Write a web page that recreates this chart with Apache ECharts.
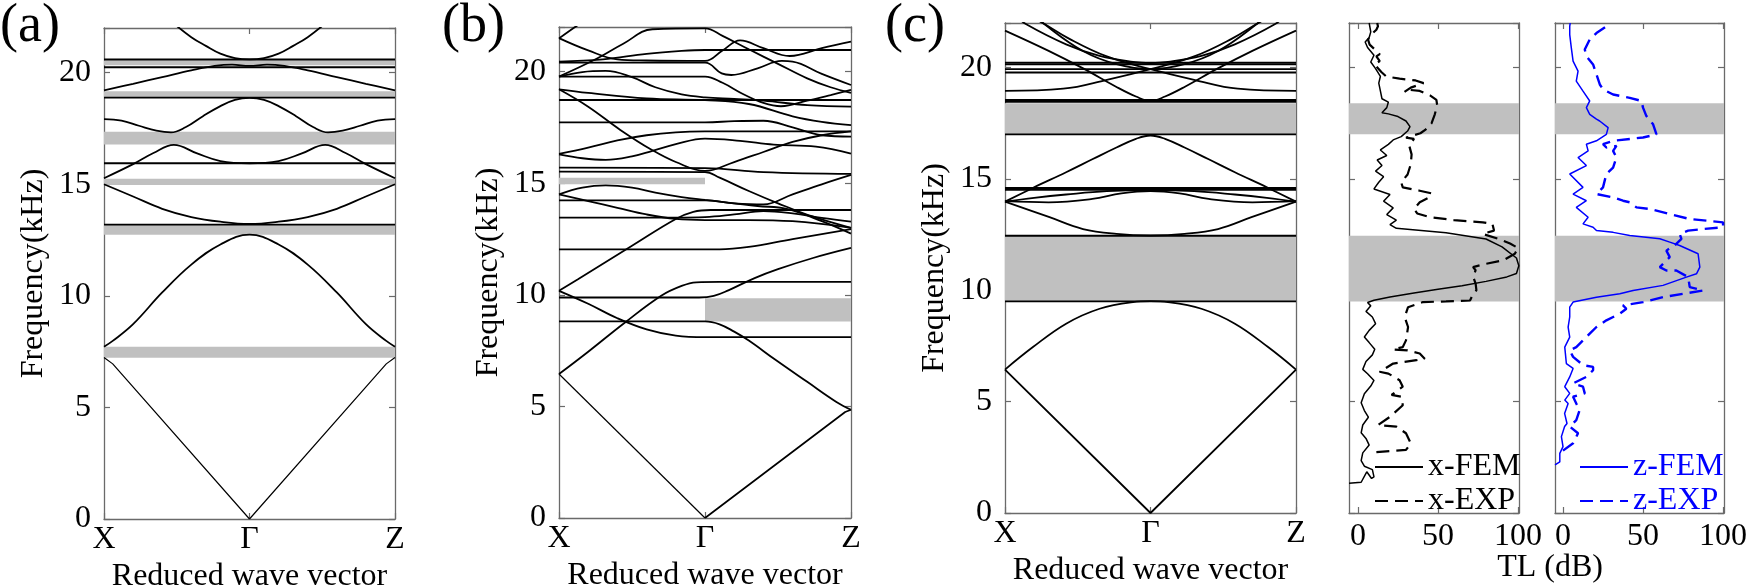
<!DOCTYPE html>
<html><head><meta charset="utf-8">
<script src="https://cdn.jsdelivr.net/npm/echarts@6/dist/echarts.min.js"></script>
<style>html,body{margin:0;padding:0;background:#fff}#c{width:1748px;height:587px}</style>
</head><body><div id="c"></div>
<script>
// ---------- tick labels ----------
const kPointPos = [0, 0.5, 1];
const kPointLabels = ['X', 'Γ', 'Z'];
const freqTicks = [0, 5, 10, 15, 20];
const tlTicks = [0, 50, 100];

// ---------- panel (a) ----------
const aStraight = [
  [[0,7.24],[0.03,6.95],[0.5,0],[0.97,6.95],[1,7.24]]
];
const aFlats = [13.19, 15.94, 18.88, 20.24, 20.59];
const aCurves = [
  [[0,7.72],[0.03,7.98],[0.1,8.73],[0.2,10.15],[0.3,11.4],[0.4,12.3],[0.5,12.74],[0.6,12.3],[0.7,11.4],[0.8,10.15],[0.9,8.73],[0.97,7.98],[1,7.72]],
  [[0,15.0],[0.1,14.45],[0.2,13.9],[0.3,13.53],[0.4,13.32],[0.5,13.22],[0.6,13.32],[0.7,13.53],[0.8,13.9],[0.9,14.45],[1,15.0]],
  [[0,15.27],[0.1,15.9],[0.17,16.4],[0.24,16.76],[0.32,16.38],[0.4,16.04],[0.5,15.94],[0.6,16.04],[0.68,16.38],[0.76,16.76],[0.83,16.4],[0.9,15.9],[1,15.27]],
  [[0,17.92],[0.06,17.85],[0.12,17.62],[0.18,17.4],[0.23,17.32],[0.28,17.55],[0.34,18.05],[0.4,18.5],[0.45,18.78],[0.5,18.87],[0.55,18.78],[0.6,18.5],[0.66,18.05],[0.72,17.55],[0.77,17.32],[0.82,17.4],[0.88,17.62],[0.94,17.85],[1,17.92]],
  [[0,19.21],[0.1,19.5],[0.2,19.8],[0.3,20.1],[0.38,20.3],[0.44,20.36],[0.5,20.3],[0.56,20.36],[0.62,20.3],[0.7,20.1],[0.8,19.8],[0.9,19.5],[1,19.21]],
  [[0.24,22.2],[0.3,21.59],[0.35,21.2],[0.4,20.85],[0.45,20.65],[0.5,20.59],[0.55,20.65],[0.6,20.85],[0.65,21.2],[0.7,21.59],[0.76,22.2]]
];
const aGaps = [[0,1,7.22,7.72],[0,1,12.74,13.19],[0,1,14.96,15.24],[0,1,16.78,17.35],[0,1,18.88,19.17],[0,1,20.33,20.55]];

// ---------- panel (b) ----------
const bStraight = [
  [[0,6.45],[0.5,0]],
  [[0.5,0],[0.98,4.75],[1,4.85]]
];
const bFlats = [18.73];
const bCurves = [
  [[0,6.45],[0.1,7.45],[0.225,8.75],[0.35,9.96],[0.42,10.4],[0.47,10.56],[0.55,10.58],[1,10.58]],
  [[0,10.18],[0.065,10.7],[0.25,12.2],[0.4,13.4],[0.46,13.72],[0.52,13.8],[1,13.8]],
  [[0,10.18],[0.1,9.6],[0.2,8.95],[0.3,8.45],[0.4,8.17],[0.5,8.1],[1,8.1]],
  [[0,9.88],[0.48,9.88],[0.53,9.95],[0.58,10.2],[0.67,10.75],[0.75,11.15],[0.87,11.65],[1,12.1]],
  [[0,8.81],[0.5,8.81],[0.55,8.68],[0.6,8.35],[0.65,7.95],[0.74,7.1],[0.85,6.1],[0.95,5.2],[1,4.85]],
  [[0,12.04],[0.55,12.04],[0.65,12.15],[0.8,12.5],[1,12.94]],
  [[0,14.5],[0.08,14.8],[0.16,14.9],[0.25,14.8],[0.33,14.58],[0.42,14.38],[0.5,14.25],[0.6,14.1],[0.68,13.98],[0.78,13.85],[0.9,13.3],[1,12.74]],
  [[0,14.5],[0.1,14.2],[0.2,13.9],[0.3,13.6],[0.4,13.4],[0.5,13.35],[0.65,13.35],[0.8,13.3],[1,13.0]],
  [[0,14.23],[0.5,14.23],[0.6,14.1],[0.7,14.05],[0.8,14.5],[0.9,14.95],[1,15.37]],
  [[0,13.46],[0.4,13.46],[0.5,13.48],[0.6,13.6],[0.7,13.75],[0.8,13.65],[0.9,13.45],[1,13.28]],
  [[0,15.7],[0.5,15.68],[0.7,15.5],[1,15.42]],
  [[0,15.52],[0.5,15.5],[0.55,15.25],[0.65,14.65],[0.75,14.1],[0.87,13.5],[1,13.0]],
  [[0,19.21],[0.1,18.43],[0.21,17.39],[0.317,16.5],[0.4,15.95],[0.5,15.55],[0.6,15.95],[0.7,16.4],[0.8,16.85],[0.9,17.15],[1,17.32]],
  [[0,16.29],[0.08,16.12],[0.16,16.05],[0.25,16.2],[0.32,16.45],[0.4,16.75],[0.5,17.0],[0.62,16.9],[0.735,16.73],[0.88,16.64],[1,16.33]],
  [[0,16.32],[0.1,16.6],[0.2,16.92],[0.3,17.15],[0.4,17.28],[0.5,17.32],[1,17.32]],
  [[0,17.73],[0.5,17.73],[0.6,17.78],[0.7,17.8],[0.8,17.5],[0.9,17.15],[1,17.09]],
  [[0,19.21],[0.1,19.05],[0.3,18.8],[0.5,18.72],[0.65,18.55],[0.8,18.0],[0.9,17.75],[1,17.6]],
  [[0,19.78],[0.08,19.98],[0.16,20.03],[0.25,19.75],[0.33,19.3],[0.42,18.98],[0.5,18.85],[0.6,18.78],[0.7,18.7],[0.85,18.5],[1,18.43]],
  [[0,19.78],[0.5,19.78],[0.56,19.5],[0.63,19.0],[0.7,18.6],[0.76,18.45],[0.85,18.7],[0.93,18.95],[1,19.18]],
  [[0,19.78],[0.12,20.52],[0.22,21.25],[0.32,21.9],[0.5,21.94],[0.56,21.6],[0.65,21.0],[0.75,20.35],[0.85,19.7],[0.93,19.3],[1,19.05]],
  [[0,20.45],[0.15,20.55],[0.3,20.8],[0.42,20.93],[0.5,20.97],[1,20.97]],
  [[0,20.4],[0.5,20.4],[0.557,19.92],[0.59,19.85],[0.68,20.15],[0.763,20.48],[0.8,20.45],[0.9,19.9],[1,19.4]],
  [[0,21.5],[0.1,20.95],[0.2,20.55],[0.3,20.5],[0.5,20.48],[0.56,20.95],[0.62,21.4],[0.7,21.05],[0.79,20.7],[0.9,21.05],[1,21.34]],
  [[0,21.49],[0.055,22.0],[0.1,22.4]]
];
const bGaps = [[0,0.5,14.95,15.25],[0.5,1,8.81,9.85]];

// ---------- panel (c) ----------
const cStraight = [
  [[0,6.44],[0.5,0],[1,6.44]]
];
const cFlats = [9.5, 12.45, 14.51, 14.59, 17.0, 18.46, 18.54, 19.78, 19.93, 20.15, 20.22];
const cCurves = [
  [[0,6.44],[0.096,7.45],[0.21,8.5],[0.325,9.17],[0.44,9.47],[0.5,9.51],[0.56,9.47],[0.675,9.17],[0.79,8.5],[0.904,7.45],[1,6.44]],
  [[0,13.98],[0.153,13.28],[0.268,12.75],[0.383,12.53],[0.5,12.46],[0.617,12.53],[0.732,12.75],[0.847,13.28],[1,13.98]],
  [[0,13.98],[0.1,14.62],[0.21,15.3],[0.3,15.88],[0.383,16.41],[0.45,16.8],[0.5,16.95],[0.55,16.8],[0.617,16.41],[0.7,15.88],[0.79,15.3],[0.9,14.62],[1,13.98]],
  [[0,13.98],[0.1,14.15],[0.21,14.3],[0.35,14.45],[0.5,14.5],[0.65,14.45],[0.79,14.3],[0.9,14.15],[1,13.98]],
  [[0,14.0],[0.15,13.95],[0.3,14.1],[0.4,14.35],[0.5,14.45],[0.6,14.35],[0.7,14.1],[0.85,13.95],[1,14.0]],
  [[0,21.66],[0.15,20.75],[0.27,19.95],[0.38,19.15],[0.45,18.7],[0.5,18.5],[0.55,18.7],[0.62,19.15],[0.73,19.95],[0.85,20.75],[1,21.66]],
  [[0.04,22.3],[0.073,21.94],[0.21,21.04],[0.325,20.52],[0.44,20.25],[0.5,20.2],[0.56,20.25],[0.675,20.52],[0.79,21.04],[0.927,21.94],[0.96,22.3]],
  [[0.1,22.4],[0.136,21.94],[0.268,20.74],[0.383,20.15],[0.5,19.93],[0.617,20.15],[0.732,20.74],[0.864,21.94],[0.9,22.4]],
  [[0,18.95],[0.2,19.05],[0.35,19.45],[0.5,19.93],[0.65,20.5],[0.78,21.3],[0.87,22],[0.9,22.2]],
  [[1,18.95],[0.8,19.05],[0.65,19.45],[0.5,19.93],[0.35,20.5],[0.22,21.3],[0.13,22],[0.1,22.2]]
];
const cGapsFreq = [[9.5,12.45],[17.0,18.4]];

// ---------- TL panels: [TL (dB), frequency (kHz)] ----------
const tlxFem = [
[-5.6,1.34],[2,1.38],[5.5,1.85],[8.5,1.55],[10,1.62],[9,1.95],[4,2.1],[2,2.35],[3,2.7],[7,3.05],[5,3.35],[2,3.6],[3,3.95],[6.5,4.3],[4,4.6],[2,4.95],[4,5.35],[8,5.7],[10,5.95],[6,6.25],[3,6.45],[5,6.8],[9,7.1],[10.5,7.35],[7,7.65],[4,7.9],[7,8.2],[11,8.5],[9,8.8],[5,9.05],[8,9.3],[6,9.45],[10,9.55],[20,9.7],[35,9.88],[50,10.05],[65,10.2],[80,10.4],[93,10.6],[99,10.75],[100.5,11.1],[99,11.45],[90,11.95],[80,12.3],[55,12.58],[24,12.78],
[20,12.95],[24,13.15],[18,13.4],[22,13.7],[16,14.0],[20,14.3],[10,14.55],[13,14.85],[16,15.1],[11,15.35],[15,15.6],[12,15.85],[18,16.05],[14,16.3],[19,16.55],[22,16.75],[27,16.9],[31,17.15],[32.5,17.35],[30,17.6],[25,17.8],[19,17.92],[15,17.97],[18,18.2],[19,18.45],[15,18.6],[14,18.95],[13,19.3],[14,19.6],[11,19.95],[8,20.25],[10,20.55],[6,20.9],[4.5,21.15],[7,21.35],[8,21.6],[7,22]
];
const tlxExp = [
[11.5,2.73],[30,2.83],[33,3.13],[30,3.58],[24,3.88],[12.5,3.95],[20,4.32],[28,4.84],[27,5.22],[21,5.3],[25,5.52],[28,5.67],[26,5.96],[19,6.26],[13.5,6.34],[22,6.71],[36.5,6.86],[41.7,6.93],[38.6,7.16],[31,7.3],[22,7.34],[28,7.45],[30,7.75],[31.3,8.35],[29.2,8.8],[31.3,9.24],[40.6,9.47],[55,9.5],[70,9.54],[72,9.84],[74,10.0],[73.5,10.3],[72,10.6],[73.5,10.9],[71.9,11.04],[80,11.19],[90.6,11.34],[98,11.64],[100,11.9],[95,12.1],[88,12.3],[78,12.53],[85,12.68],[84,12.98],[78,13.05],[60,13.15],[45,13.28],[37,13.45],[35,13.65],[38.6,13.95],[44,14.15],[46,14.35],[38.6,14.47],[28,14.62],[27,14.85],[31,15.2],[33,15.66],[33.5,16.1],[32,16.5],[35,16.8],[30,16.85],[39,17.05],[42,17.2],[46,17.5],[48,17.9],[49.5,18.3],[49,18.55],[45,18.75],[38.6,18.95],[32,19.0],[29,18.9],[33,19.1],[41,19.3],[36,19.42],[26,19.5],[17.7,19.6],[14.6,19.8],[10.4,20.14],[13.6,20.29],[11.5,20.5],[13.6,20.6],[11.5,20.75],[7.3,21.03],[6.3,21.25],[8.3,21.48],[11.5,21.7],[12.5,21.85],[12,22]
];
const tlzFem = [
[-5,2.16],[-2,2.3],[-2,2.68],[0,2.98],[-1,3.43],[1,3.88],[2.5,4.02],[1,4.47],[3.2,4.92],[1.1,5.07],[4.2,5.37],[1.1,5.67],[4.2,6.11],[6.3,6.49],[2.1,6.71],[1.1,7.45],[4.2,7.9],[3.2,8.35],[4.2,8.8],[4.2,9.24],[6.3,9.47],[20.9,9.69],[35.5,9.84],[43.8,9.99],[62.5,10.22],[77.1,10.59],[83.4,10.74],[85.5,11.04],[84.4,11.64],[72.9,12.01],[66.7,12.16],[60.5,12.31],[41.7,12.46],[31.3,12.6],[20.9,12.68],[18.8,12.83],[12.5,12.98],[15.7,13.28],[8.3,13.72],[14.6,14.02],[6.3,14.32],[12.5,14.62],[4.2,15.22],[14.6,15.6],[9.4,15.96],[15.7,16.26],[14.6,16.56],[20.9,16.71],[27.1,17.0],[28.2,17.3],[22.9,17.6],[20.9,17.68],[16.7,17.9],[14.6,18.2],[16.7,18.5],[12.5,18.94],[8.3,19.39],[9.4,19.84],[6.3,20.29],[5.2,20.88],[4.2,21.48],[4.2,21.85],[4.5,22]
];
const tlzExp = [
[0,2.8],[6.3,3.13],[9.4,3.58],[4.2,3.88],[8.3,4.17],[10.4,4.62],[8.3,4.92],[6.3,5.22],[13.6,5.37],[12.5,5.67],[6.3,5.82],[14.6,6.11],[18.8,6.41],[18.8,6.56],[12.5,6.64],[6.3,7.01],[4.2,7.3],[8.3,7.45],[12.5,7.75],[16.7,8.05],[20.9,8.35],[27.1,8.65],[35.5,8.95],[39.6,9.17],[37.5,9.32],[50,9.47],[62.5,9.69],[75,9.84],[87.5,9.99],[86.5,10.05],[79.2,10.14],[78.2,10.59],[70.8,10.89],[64.6,10.89],[60.5,11.04],[64.6,11.34],[66.7,11.49],[64.6,11.78],[70.8,12.08],[74,12.31],[72.9,12.53],[78.2,12.68],[87.5,12.75],[100,12.83],[100,13.05],[79.2,13.2],[66.7,13.42],[54.2,13.65],[45.9,13.72],[41.7,13.95],[37.5,14.02],[31.3,14.17],[20.9,14.32],[25,14.62],[27.1,15.22],[31.3,15.51],[33.4,15.96],[31.3,16.26],[33.4,16.48],[27.1,16.41],[25,16.56],[31.3,16.71],[50,16.86],[58.4,17.0],[56.3,17.45],[52.1,17.82],[50,18.2],[49,18.5],[41.7,18.64],[31.3,18.79],[25,19.02],[23,19.24],[20.9,19.69],[18.8,20.14],[14.6,20.51],[13.6,20.81],[16.7,21.26],[20.9,21.55],[27.1,21.85],[28,22]
];
const seriesNames = ['x-FEM', 'x-EXP', 'z-FEM', 'z-EXP'];

// ---------- build ----------
const FONT = 'Liberation Serif';
const AX = '#6a6a6a';
const GAP_COLOR = '#c0c0c0';
const FS = 32;

const grids = [
  {left:104, top:28, width:291, height:491},
  {left:559, top:27, width:292, height:491},
  {left:1005, top:23, width:291, height:490},
  {left:1349, top:23, width:170, height:490},
  {left:1555, top:23, width:169, height:490}
].map(g => Object.assign({outerBoundsMode:'none', containLabel:false}, g));

const axLine = {show:true, onZero:false, lineStyle:{color:AX, width:1.3}};
const tick = {show:true, inside:true, length:6, lineStyle:{color:AX, width:1.2}};
const txt = {fontFamily:FONT, fontSize:FS, color:'#000'};

const xAxis = [], yAxis = [];
function kFmt(v){ const i = kPointPos.indexOf(v); return i >= 0 ? kPointLabels[i] : ''; }
function fFmt(v){ return freqTicks.indexOf(v) >= 0 ? String(v) : ''; }
for (let g = 0; g < 3; g++) {
  xAxis.push({gridIndex:g, type:'value', min:0, max:1, interval:0.5, position:'bottom',
    axisLine:axLine, axisTick:tick, splitLine:{show:false},
    axisLabel:Object.assign({margin:5, formatter:kFmt}, txt),
    name:'Reduced wave vector', nameLocation:'middle', nameGap:40, nameTextStyle:txt});
  xAxis.push({gridIndex:g, type:'value', min:0, max:1, interval:0.5, position:'top',
    axisLine:axLine, axisTick:tick, splitLine:{show:false}, axisLabel:{show:false}});
  yAxis.push({gridIndex:g, type:'value', min:0, max:22, interval:5, position:'left',
    axisLine:axLine, axisTick:tick, splitLine:{show:false},
    axisLabel:Object.assign({margin:13, formatter:fFmt}, txt),
    name:'Frequency(kHz)', nameLocation:'middle', nameGap:54, nameTextStyle:txt});
  yAxis.push({gridIndex:g, type:'value', min:0, max:22, interval:5, position:'right',
    axisLine:axLine, axisTick:tick, splitLine:{show:false}, axisLabel:{show:false}});
}
const tlRanges = [[-5.6,100.6],[-5,100.6]];
for (let k = 0; k < 2; k++) {
  const g = 3 + k;
  xAxis.push({gridIndex:g, type:'value', min:tlRanges[k][0], max:tlRanges[k][1], position:'bottom',
    axisLine:axLine, axisTick:Object.assign({customValues:tlTicks}, tick), splitLine:{show:false},
    axisLabel:Object.assign({margin:8, customValues:tlTicks}, txt)});
  xAxis.push({gridIndex:g, type:'value', min:tlRanges[k][0], max:tlRanges[k][1], position:'top',
    axisLine:axLine, axisTick:Object.assign({customValues:tlTicks}, tick), splitLine:{show:false}, axisLabel:{show:false}});
  yAxis.push({gridIndex:g, type:'value', min:0, max:22, interval:5, position:'left',
    axisLine:axLine, axisTick:tick, splitLine:{show:false}, axisLabel:{show:false}});
  yAxis.push({gridIndex:g, type:'value', min:0, max:22, interval:5, position:'right',
    axisLine:axLine, axisTick:tick, splitLine:{show:false}, axisLabel:{show:false}});
}

const series = [];
function gapSeries(g, rects){
  series.push({type:'custom', xAxisIndex:2*g, yAxisIndex:2*g, silent:true, z:1,
    encode:{x:[0,1], y:[2,3]}, data:rects,
    renderItem:function(params, api){
      const p0 = api.coord([api.value(0), api.value(3)]);
      const p1 = api.coord([api.value(1), api.value(2)]);
      return {type:'rect', shape:{x:p0[0], y:p0[1], width:p1[0]-p0[0], height:p1[1]-p0[1]}, style:{fill:GAP_COLOR}};
    }});
}
function line(g, data, smooth, width, color, dash, name){
  const s = {type:'line', xAxisIndex:2*g, yAxisIndex:2*g, data:data, symbol:'none', showSymbol:false,
    smooth:smooth, clip:true, silent:true, z:3, color:color,
    itemStyle:{color:color},
    lineStyle:{color:color, width:width, type:dash || 'solid'}};
  if (name) s.name = name;
  series.push(s);
}
function panel(g, gaps, straight, flats, curves, acousticWidth){
  gapSeries(g, gaps);
  straight.forEach((d, i) => line(g, d, false, i === 0 ? acousticWidth : 1.7, '#000'));
  flats.forEach(f => line(g, [[0,f],[1,f]], false, 1.9, '#000'));
  curves.forEach(d => line(g, d, 0.4, 1.8, '#000'));
}
panel(0, aGaps, aStraight, aFlats, aCurves, 1.2);
panel(1, bGaps, bStraight, bFlats, bCurves, 1.2);
panel(2, cGapsFreq.map(p => [0,1,p[0],p[1]]), cStraight, cFlats, cCurves, 1.8);
gapSeries(3, cGapsFreq.map(p => [tlRanges[0][0], tlRanges[0][1], p[0], p[1]]));
gapSeries(4, cGapsFreq.map(p => [tlRanges[1][0], tlRanges[1][1], p[0], p[1]]));
line(3, tlxFem, false, 1.5, '#000', 'solid', seriesNames[0]);
line(3, tlxExp, false, 2.2, '#000', [13,7], seriesNames[1]);
line(4, tlzFem, false, 1.5, '#0000ff', 'solid', seriesNames[2]);
line(4, tlzExp, false, 2.4, '#0000ff', [13,7], seriesNames[3]);

const option = {
  animation:false,
  backgroundColor:'#fff',
  grid:grids, xAxis:xAxis, yAxis:yAxis, series:series,
  legend:[
    {orient:'vertical', left:1374, top:451, itemWidth:48, itemHeight:14, itemGap:2, padding:0, selectedMode:false,
     itemStyle:{opacity:0}, data:[seriesNames[0], seriesNames[1]], textStyle:{fontFamily:FONT, fontSize:FS, color:'#000'}},
    {orient:'vertical', left:1579, top:451, itemWidth:48, itemHeight:14, itemGap:2, padding:0, selectedMode:false,
     itemStyle:{opacity:0}, data:[seriesNames[2], seriesNames[3]], textStyle:{fontFamily:FONT, fontSize:FS, color:'#0000ff'}}
  ],
  graphic:[
    {type:'text', left:0, top:0, style:{text:'(a)', font:'54px "Liberation Serif"', fill:'#000'}},
    {type:'text', left:442, top:0, style:{text:'(b)', font:'54px "Liberation Serif"', fill:'#000'}},
    {type:'text', left:885, top:0, style:{text:'(c)', font:'54px "Liberation Serif"', fill:'#000'}},
    {type:'text', x:1550, y:568, style:{text:'TL (dB)', font:'32px "Liberation Serif"', fill:'#000', textAlign:'center', textVerticalAlign:'middle'}}
  ]
};
const chart = echarts.init(document.getElementById('c'));
chart.setOption(option);
</script></body></html>
